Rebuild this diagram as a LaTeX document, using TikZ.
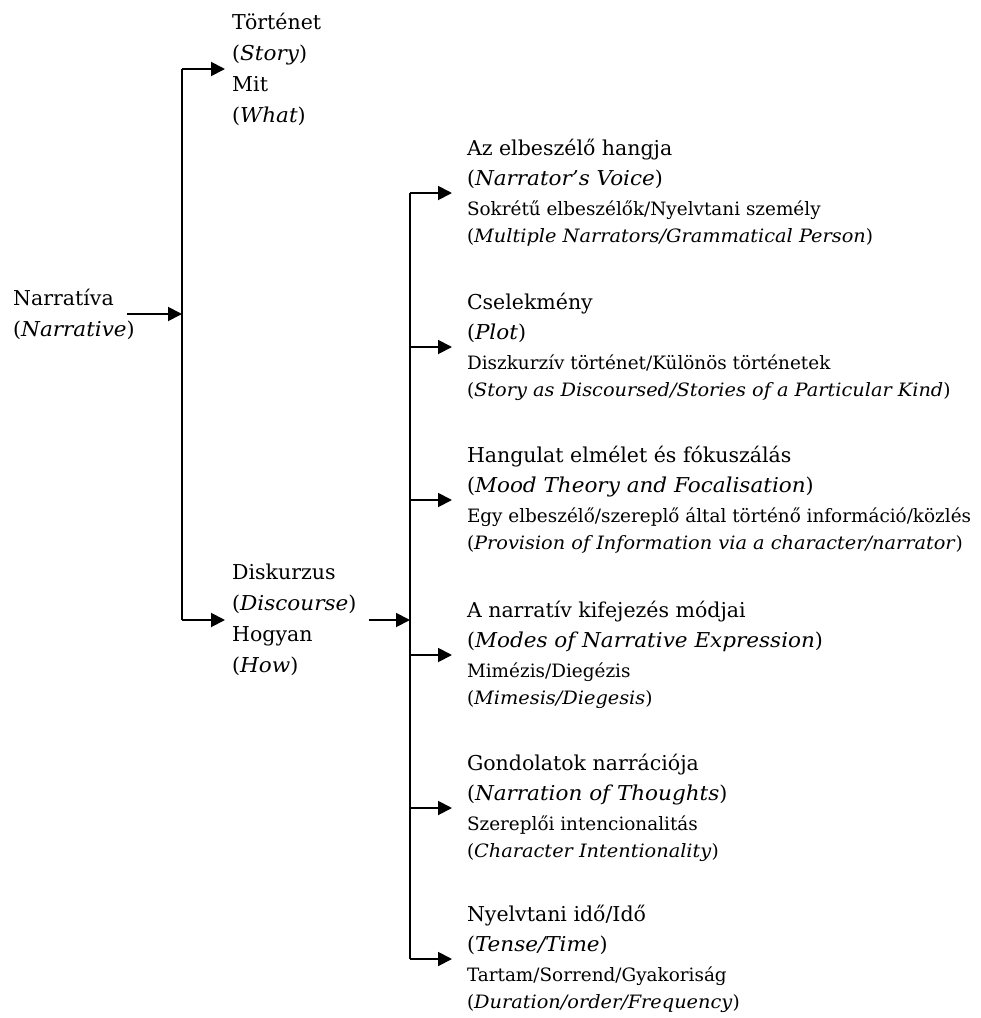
\documentclass[tikz,border=0pt]{standalone}
\usepackage{fontspec}
\setmainfont{DejaVu Serif}[ItalicFeatures={FakeStretch=1.05}]
\usetikzlibrary{arrows.meta}
% four-line label: two large lines, two small lines
\newcommand{\fourlines}[4]{%
  \fontsize{20.5}{30}\selectfont
  \begin{tabular}{@{}l@{}}
    #1\\
    (\textit{#2})\\
    \fontsize{18.4}{28}\selectfont #3\\[-3pt]
    \fontsize{18.4}{28}\selectfont (\textit{#4})
  \end{tabular}}
\tikzset{
  link/.style={line width=1.9pt},
  arr/.style={link, -{Triangle[length=14pt,width=14pt]}},
  lbl/.style={anchor=west, inner sep=0pt, align=left, font=\fontsize{20.5}{31}\selectfont},
  leaf/.style={anchor=west, inner sep=0pt, outer xsep=15pt}
}
\begin{document}
\begin{tikzpicture}[x=1pt, y=-1pt]
    \useasboundingbox (0,0) rectangle (981,1018);
    % trunks
    \coordinate (trunkA) at (182,0);
    \coordinate (trunkB) at (410,0);
    % first level
    \node[lbl] (narr) at (13,314) {Narratíva\\(\textit{Narrative})};
    \node[lbl] (tort) at (232,69) {Történet\\(\textit{Story})\\Mit\\(\textit{What})};
    \node[lbl] (disk) at (232,620) {Diskurzus\\(\textit{Discourse})\\Hogyan\\(\textit{How})};
    \draw[arr] ([xshift=-8pt]narr.east) -- (trunkA |- narr.east);
    \draw[link] (trunkA |- tort.west) -- (trunkA |- disk.west);
    \draw[arr] (trunkA |- tort.west) -- ([xshift=-7pt]tort.west);
    \draw[arr] (trunkA |- disk.west) -- ([xshift=-7pt]disk.west);
    % second level
    \node[leaf] (voice) at (452,193) {\fourlines{Az elbeszélő hangja}{Narrator’s Voice}{Sokrétű elbeszélők/Nyelvtani személy}{Multiple Narrators/Grammatical Person}};
    \node[leaf] (plot) at (452,347) {\fourlines{Cselekmény}{Plot}{Diszkurzív történet/Különös történetek}{Story as Discoursed/Stories of a Particular Kind}};
    \node[leaf] (mood) at (452,500) {\fourlines{Hangulat elmélet és fókuszálás}{Mood Theory and Focalisation}{Egy elbeszélő/szereplő által történő információ/közlés}{Provision of Information via a character/narrator}};
    \node[leaf] (modes) at (452,655) {\fourlines{A narratív kifejezés módjai}{Modes of Narrative Expression}{Mimézis/Diegézis}{Mimesis/Diegesis}};
    \node[leaf] (thought) at (452,808) {\fourlines{Gondolatok narrációja}{Narration of Thoughts}{Szereplői intencionalitás}{Character Intentionality}};
    \node[leaf] (tense) at (452,959) {\fourlines{Nyelvtani idő/Idő}{Tense/Time}{Tartam/Sorrend/Gyakoriság}{Duration/order/Frequency}};
    \draw[arr] ([xshift=12pt]disk.east) -- (trunkB |- disk.east);
    \draw[link] (trunkB |- voice.west) -- (trunkB |- tense.west);
    \foreach \n in {voice,plot,mood,modes,thought,tense}
        \draw[arr] (trunkB |- \n.west) -- (\n.west);
\end{tikzpicture}
\end{document}
